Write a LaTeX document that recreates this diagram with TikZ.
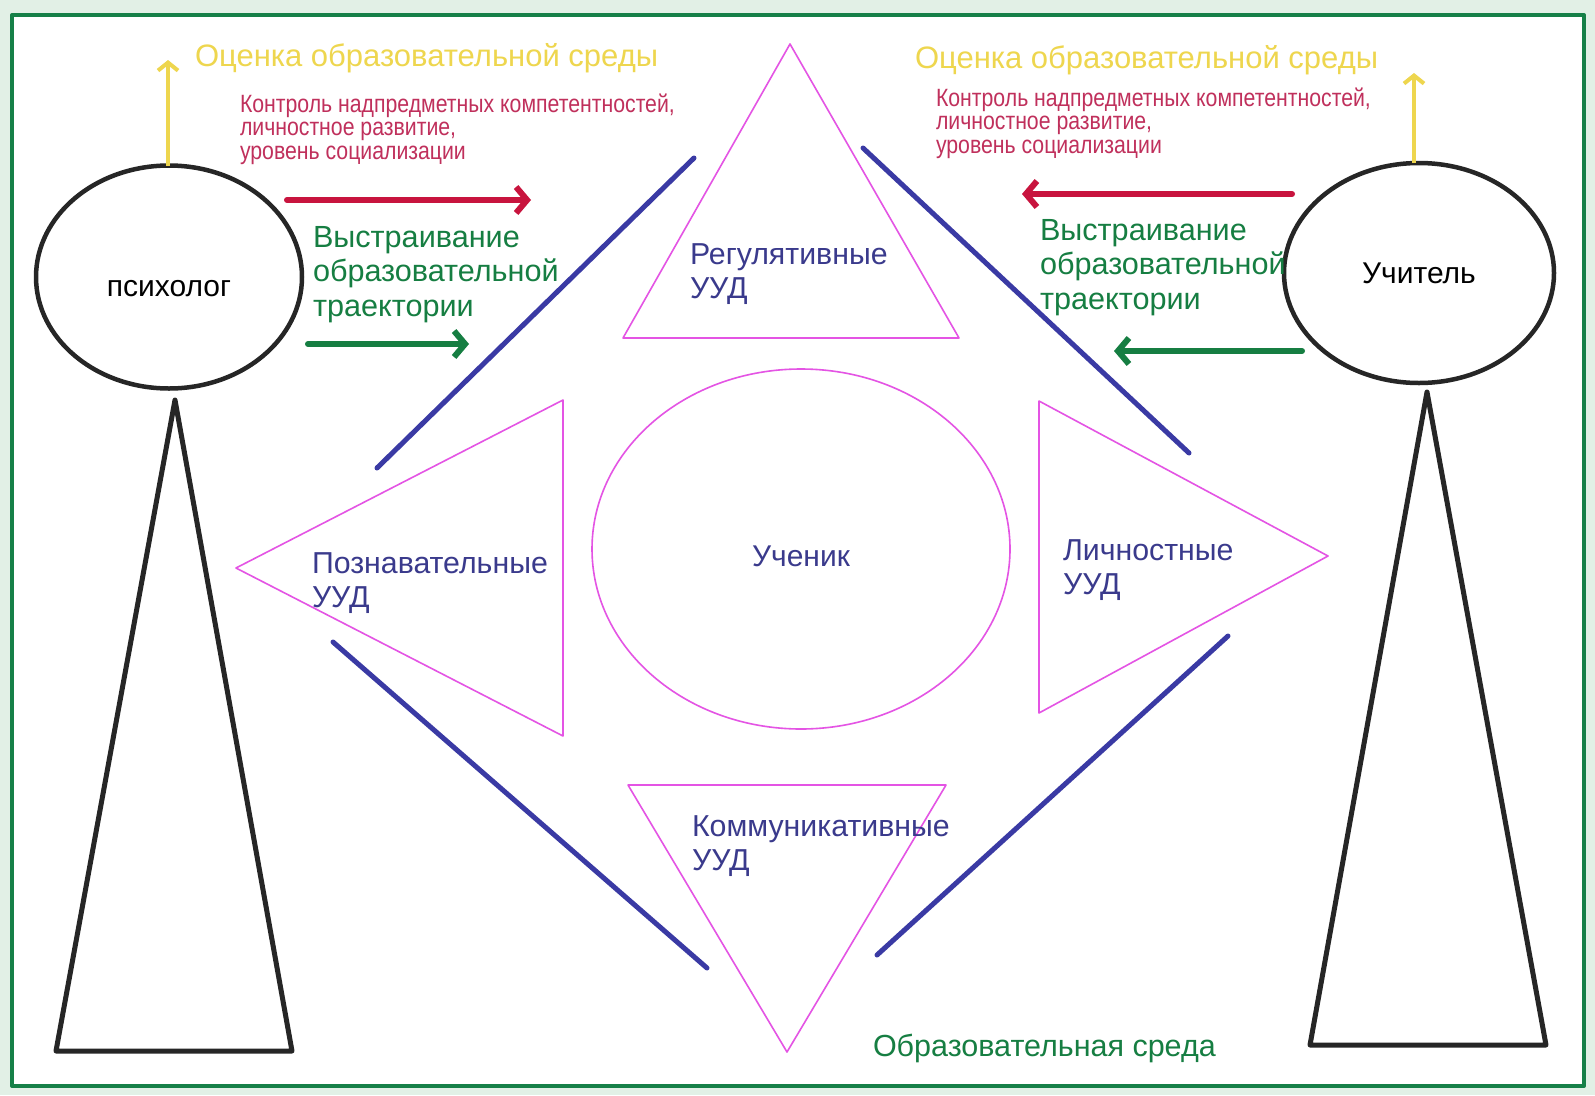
\documentclass[tikz,border=0pt]{standalone}
\usepackage{fontspec}
\setmainfont{Liberation Sans}
\newfontfamily\narrowfont[FakeStretch=0.85]{Liberation Sans}
\usetikzlibrary{shapes.geometric,arrows.meta}
\definecolor{framegreen}{RGB}{22,128,72}
\definecolor{bgmint}{RGB}{226,240,230}
\definecolor{evalyellow}{RGB}{238,214,78}
\definecolor{ctrlred}{RGB}{200,20,62}
\definecolor{ctrltext}{RGB}{192,48,92}
\definecolor{pathgreen}{RGB}{22,126,66}
\definecolor{uudblue}{RGB}{58,58,164}
\definecolor{uudtext}{RGB}{58,58,140}
\definecolor{uudpink}{RGB}{228,84,228}
\definecolor{figgray}{RGB}{38,38,38}
\begin{document}
\begin{tikzpicture}[x=1pt,y=-1pt,inner sep=0pt,outer sep=0pt,line join=round,
person/.style={draw=figgray,ellipse,line width=4.5pt,fill=white,font=\fontsize{30}{34}\selectfont},
figure/.style={draw=figgray,line width=5pt},
uud/.style={draw=uudpink,line width=1.6pt},
link/.style={draw=uudblue,line width=5pt,line cap=round},
evalarrow/.style={draw=evalyellow,line width=4pt,-{Straight Barb[length=8pt,width=20pt]}},
ctrlarrow/.style={draw=ctrlred,line width=6pt,line cap=round,-{Straight Barb[length=11pt,width=26pt]}},
patharrow/.style={draw=pathgreen,line width=6pt,line cap=round,-{Straight Barb[length=11pt,width=26pt]}},
evaltext/.style={text=evalyellow,anchor=base west,font=\fontsize{31}{34}\selectfont},
ctrltext/.style={text=ctrltext,anchor=base west,align=left,font=\narrowfont\fontsize{25}{23.5}\selectfont},
pathtext/.style={text=pathgreen,anchor=base west,align=left,font=\fontsize{30.6}{34.5}\selectfont},
uudlabel/.style={text=uudtext,anchor=base west,align=left,font=\fontsize{30.3}{34}\selectfont}]
\useasboundingbox (0,0) rectangle (1595,1095);
\fill[bgmint] (0,0) rectangle (1595,1095);
\draw[framegreen,line width=4pt,fill=white] (12,15) rectangle (1584,1086);
% people
\draw (169,277) node[person,minimum width=266pt,minimum height=223pt,text height=40pt] (psych) {психолог};
\draw (1419,273) node[person,minimum width=270pt,minimum height=220pt] (teacher) {Учитель};
\draw[figure] (175,400) -- (292,1051) -- (56,1051) -- cycle;
\draw[figure] (1427,392) -- (1546,1045) -- (1310,1045) -- cycle;
% pupil and the four kinds of UUD
\draw (801,549) node[ellipse,uud,minimum width=418pt,minimum height=360pt,text=uudtext,text height=36pt,font=\fontsize{30}{34}\selectfont] (pupil) {Ученик};
\draw[uud] (790,44) -- (959,338) -- (623,338) -- cycle;
\draw[uud] (236,568) -- (563,400) -- (563,736) -- cycle;
\draw[uud] (1328,556) -- (1039,401) -- (1039,713) -- cycle;
\draw[uud] (628,785) -- (946,785) -- (787,1052) -- cycle;
% (base of a two-line label = its last line)
\draw (690,298) node[uudlabel] (reg) {Регулятивные\\УУД};
\draw (312,607) node[uudlabel] (cog) {Познавательные\\УУД};
\draw (1063,594) node[uudlabel] (pers) {Личностные\\УУД};
\draw (692,870) node[uudlabel] (comm) {Коммуникативные\\УУД};
% environment
\draw[link] (377,468) -- (694,158);
\draw[link] (863,148) -- (1189,453);
\draw[link] (333,642) -- (707,968);
\draw[link] (1228,636) -- (877,955);
\draw (873,1056) node[anchor=base west,text=pathgreen,font=\fontsize{30.5}{34}\selectfont] (env) {Образовательная среда};
% psychologist side
\coordinate (psychEval) at (168,60);
\coordinate (psychCtrl) at (531,200);
\coordinate (psychPath) at (469,344);
\draw[evalarrow] (psych.north -| psychEval) -- (psychEval);
\draw[ctrlarrow] (287,200) -- (psychCtrl);
\draw[patharrow] (308,344) -- (psychPath);
\draw (195,66) node[evaltext] (psychEvalText) {Оценка образовательной среды};
\draw (240,159) node[ctrltext] (psychCtrlText) {Контроль надпредметных компетентностей,\\личностное развитие,\\уровень социализации};
\draw (313,316) node[pathtext] (psychPathText) {Выстраивание\\образовательной\\траектории};
% teacher side
\coordinate (teachEval) at (1414,73);
\coordinate (teachCtrl) at (1022,194);
\coordinate (teachPath) at (1114,351);
\draw[evalarrow] (teacher.north -| teachEval) -- (teachEval);
\draw[ctrlarrow] (1292,194) -- (teachCtrl);
\draw[patharrow] (1302,351) -- (teachPath);
\draw (915,68) node[evaltext] (teachEvalText) {Оценка образовательной среды};
\draw (936,153) node[ctrltext] (teachCtrlText) {Контроль надпредметных компетентностей,\\личностное развитие,\\уровень социализации};
\draw (1040,309) node[pathtext] (teachPathText) {Выстраивание\\образовательной\\траектории};
\end{tikzpicture}
\end{document}
